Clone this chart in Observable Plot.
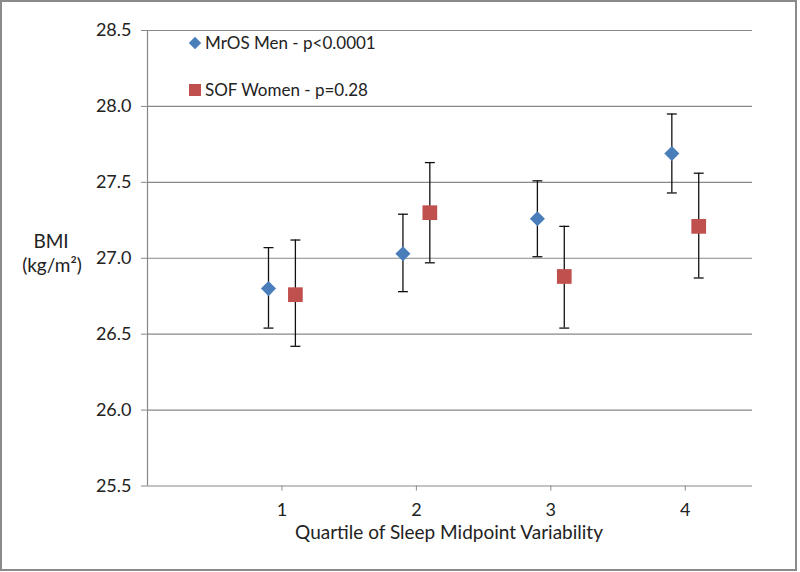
<!DOCTYPE html>
<html>
<head>
<meta charset="utf-8">
<script src="https://cdn.jsdelivr.net/npm/d3@7"></script>
<script src="https://cdn.jsdelivr.net/npm/@observablehq/plot@0.6"></script>
<style>
  html, body { margin: 0; padding: 0; background: #fff; }
  #wrap { position: relative; width: 800px; height: 572px; overflow: hidden; }
  #frame { position: absolute; left: 0; top: 0; width: 793px; height: 567px; border: 2px solid #8a8a8a; pointer-events: none; }
  svg { display: block; }
</style>
</head>
<body>
<div id="wrap"><div id="frame"></div></div>
<script>
// ---- data ----
const quartiles = [1, 2, 3, 4];
const menBMI   = [26.80, 27.03, 27.26, 27.69];
const menLow   = [26.54, 26.78, 27.01, 27.43];
const menHigh  = [27.07, 27.29, 27.51, 27.95];
const womenBMI  = [26.76, 27.30, 26.88, 27.21];
const womenLow  = [26.42, 26.97, 26.54, 26.87];
const womenHigh = [27.12, 27.63, 27.21, 27.56];
const yTicks = [25.5, 26.0, 26.5, 27.0, 27.5, 28.0, 28.5];
const xTicks = [1, 2, 3, 4];
const seriesNames = ["MrOS Men - p<0.0001", "SOF Women - p=0.28"];

// ---- build tables ----
const series = [
  {name: seriesNames[0], bmi: menBMI, low: menLow, high: menHigh, shift: -0.1, symbol: "diamond2", color: "#4a7ebb", r: 6.8},
  {name: seriesNames[1], bmi: womenBMI, low: womenLow, high: womenHigh, shift: 0.1, symbol: "square", color: "#c0504d", r: 8.3}
];
const tables = series.map(s => quartiles.map((q, i) => ({
  series: s.name, q, x: q + s.shift, bmi: s.bmi[i], low: s.low[i], high: s.high[i]
})));
const rows = tables.flat();

const cap = { draw(ctx, size) { const w = Math.sqrt(size); ctx.moveTo(-w / 2, 0); ctx.lineTo(w / 2, 0); } };
const FONT = "Lato, 'Open Sans', sans-serif";
const GRID = "#888";

const chart = Plot.plot({
  width: 800, height: 572,
  marginLeft: 147, marginRight: 48, marginTop: 30, marginBottom: 86.5,
  style: { fontFamily: FONT, fontSize: "18px", color: "#222", background: "transparent" },
  x: { type: "linear", domain: [0, 4.5] },
  y: { domain: [25.5, 28.5] },
  marks: [
    Plot.ruleY(yTicks, { stroke: GRID, strokeWidth: 1.2 }),
    Plot.ruleX([0], { stroke: GRID, strokeWidth: 1.2 }),
    Plot.axisY(yTicks, { tickFormat: d3.format(".1f"), tickSize: 6, tickPadding: 10, stroke: GRID, label: null, fontSize: 18 }),
    Plot.axisX(xTicks, { tickFormat: d => String(d), tickSize: 5, tickPadding: 12, stroke: GRID, label: null, fontSize: 18 }),
    Plot.ruleX(rows, { x: "x", y1: "low", y2: "high", stroke: "#111", strokeWidth: 1.3 }),
    Plot.dot(rows, { x: "x", y: "low", symbol: () => cap, r: 5.6, stroke: "#111", strokeWidth: 1.3, fill: "none" }),
    Plot.dot(rows, { x: "x", y: "high", symbol: () => cap, r: 5.6, stroke: "#111", strokeWidth: 1.3, fill: "none" }),
    ...series.map((s, k) => Plot.dot(tables[k], { x: "x", y: "bmi", symbol: s.symbol, r: s.r, fill: s.color, stroke: "none" }))
  ]
});
document.getElementById("wrap").prepend(chart);

// ---- overlay text: y label, x title, legend ----
const svg = d3.select(chart);
const g = svg.append("g").attr("font-family", FONT).attr("fill", "#222");
g.append("text").attr("x", 51).attr("y", 248).attr("text-anchor", "middle").attr("font-size", 19).text("BMI");
g.append("text").attr("x", 52).attr("y", 272).attr("text-anchor", "middle").attr("font-size", 19).text("(kg/m²)");
g.append("text").attr("x", 449).attr("y", 539).attr("text-anchor", "middle").attr("font-size", 19).text("Quartile of Sleep Midpoint Variability");

const leg = g.append("g").attr("text-anchor", "start");
const legY = [43, 90];
series.forEach((s, i) => {
  const sym = d3.symbol().type(s.symbol === "diamond2" ? d3.symbolDiamond2 : d3.symbolSquare).size(s.symbol === "diamond2" ? 100 : 144);
  leg.append("path").attr("d", sym()).attr("transform", `translate(195,${legY[i]})`).attr("fill", s.color);
  leg.append("text").attr("x", 205).attr("y", legY[i]).attr("dy", "0.35em").attr("font-size", 17).attr("text-anchor", "start").text(s.name);
});
</script>
</body>
</html>
